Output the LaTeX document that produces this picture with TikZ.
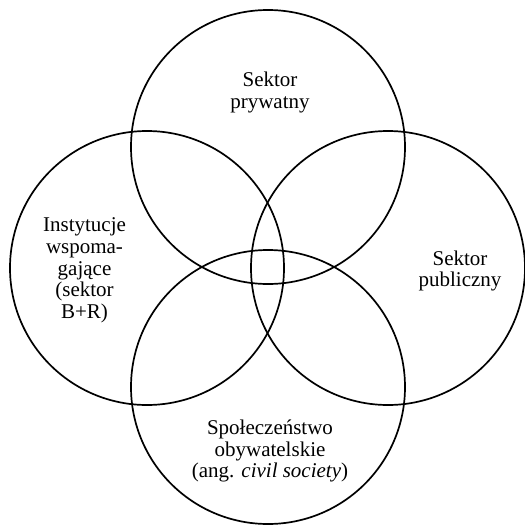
\documentclass[tikz,border=0pt]{standalone}
\usepackage{fontspec}
\setmainfont{Liberation Serif}
\begin{document}
\begin{tikzpicture}[x=1pt,y=-1pt,
  sector/.style={draw=black,line width=1.7pt},
  label/.style={align=center,inner sep=0pt,font=\fontsize{21}{21.6}\selectfont}]
  \useasboundingbox (0,0) rectangle (525,525);
  % four overlapping sectors
  \draw[sector] (268,147) circle[radius=137pt];
  \draw[sector] (147,268) circle[radius=137pt];
  \draw[sector] (388,268) circle[radius=137pt];
  \draw[sector] (268,387) circle[radius=137pt];
  % sector names
  \node[label] (prywatny) at (270,92.5) {Sektor\\prywatny};
  \node[label] (wspomagajace) at (84.5,270.3) {Instytucje\\wspoma-\\gające\\(sektor\\B+R)};
  \node[label] (publiczny) at (460,271) {Sektor\\publiczny};
  \node[label] (obywatelskie) at (270,451) {Społeczeństwo\\obywatelskie\\(ang. \textit{civil society})};
\end{tikzpicture}
\end{document}
